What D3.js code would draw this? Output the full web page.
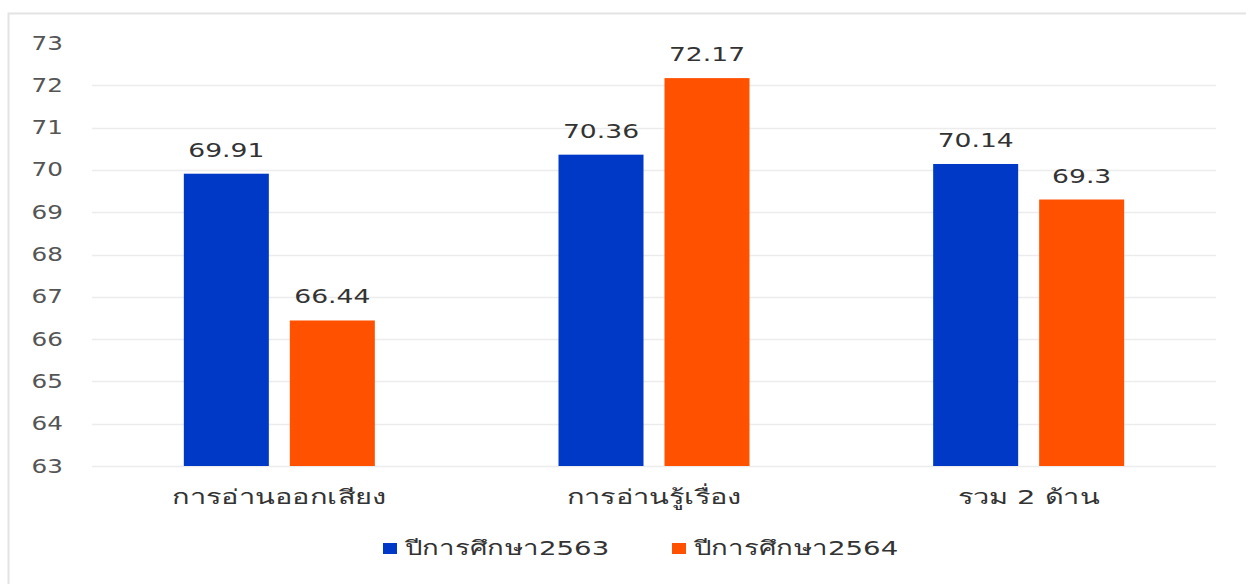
<!DOCTYPE html>
<html><head><meta charset="utf-8">
<script src="https://cdn.jsdelivr.net/npm/d3@7"></script>
<style>body{margin:0;background:#fff}svg{display:block}</style>
</head><body>
<script>
const categories = ["การอ่านออกเสียง", "การอ่านรู้เรื่อง", "รวม 2 ด้าน"];
const seriesNames = ["ปีการศึกษา2563", "ปีการศึกษา2564"];
const values2563 = [69.91, 70.36, 70.14];
const values2564 = [66.44, 72.17, 69.3];
const yTicks = [63, 64, 65, 66, 67, 68, 69, 70, 71, 72, 73];
const colors = ["#0039C6", "#FF5100"];

const W = 1246, H = 584;
const font = "'DejaVu Sans', 'Noto Sans', sans-serif";
const svg = d3.select("body").append("svg").attr("width", W).attr("height", H);
svg.append("rect").attr("x", 8.5).attr("y", 13.5).attr("width", 1240).attr("height", 580)
  .attr("fill", "#fff").attr("stroke", "#e3e3e3").attr("stroke-width", 2);

const x0 = d3.scaleBand().domain(categories).range([92, 1216]).paddingInner(0).paddingOuter(0);
const y = d3.scaleLinear().domain([63, 73]).range([466, 43]);
const series = [values2563, values2564];
const x1 = d3.scaleBand().domain([0, 1]).range([0, 191]).paddingInner(0.198);

// gridlines
svg.append("g").selectAll("line").data(yTicks.filter(t => t < 73)).join("line")
  .attr("x1", 92).attr("x2", 1216).attr("y1", d => Math.round(y(d)) + 0.5).attr("y2", d => Math.round(y(d)) + 0.5)
  .attr("stroke", "#ececec").attr("stroke-width", 1.5);

// y axis
const yAxis = d3.axisLeft(y).tickValues(yTicks).tickSize(0).tickPadding(0);
const ya = svg.append("g").attr("transform", "translate(63,0)").call(yAxis);
ya.select(".domain").remove();
ya.selectAll("text").attr("font-family", font).attr("font-size", 19).attr("fill", "#555")
  .attr("transform", "scale(1.3,1)");

// x axis
const xAxis = d3.axisBottom(x0).tickSize(0).tickPadding(0);
const xa = svg.append("g").attr("transform", "translate(0,490)").call(xAxis);
xa.select(".domain").remove();
xa.selectAll("text").attr("font-family", font).attr("font-size", 20).attr("fill", "#333").attr("dy", "0.71em")
  .attr("transform", "scale(1.45,1)");

// bars
const groups = svg.append("g").selectAll("g").data(categories).join("g")
  .attr("transform", d => `translate(${x0(d) + (x0.bandwidth() - 191) / 2},0)`);
groups.each(function(cat, ci) {
  const g = d3.select(this);
  [0, 1].forEach(si => {
    const v = series[si][ci];
    g.append("rect").attr("x", x1(si)).attr("width", x1.bandwidth())
      .attr("y", y(v)).attr("height", y(63) - y(v)).attr("fill", colors[si]);
    const cx = x1(si) + x1.bandwidth() / 2, cy = y(v) - 17;
    g.append("text").attr("transform", `translate(${cx},${cy}) scale(1.33,1)`)
      .attr("text-anchor", "middle").attr("font-family", font).attr("font-size", 20)
      .attr("fill", "#333").text(v);
  });
});

// legend
const legendX = [383, 672];
const lg = svg.append("g").selectAll("g").data(seriesNames).join("g")
  .attr("transform", (d, i) => `translate(${legendX[i]},548)`);
lg.append("rect").attr("x", 0).attr("y", -5).attr("width", 14).attr("height", 11).attr("fill", (d, i) => colors[i]);
lg.append("text").attr("transform", "translate(22,0) scale(1.38,1)").attr("dy", "0.35em").attr("font-family", font)
  .attr("font-size", 20).attr("fill", "#333").text(d => d);
</script>
</body></html>
